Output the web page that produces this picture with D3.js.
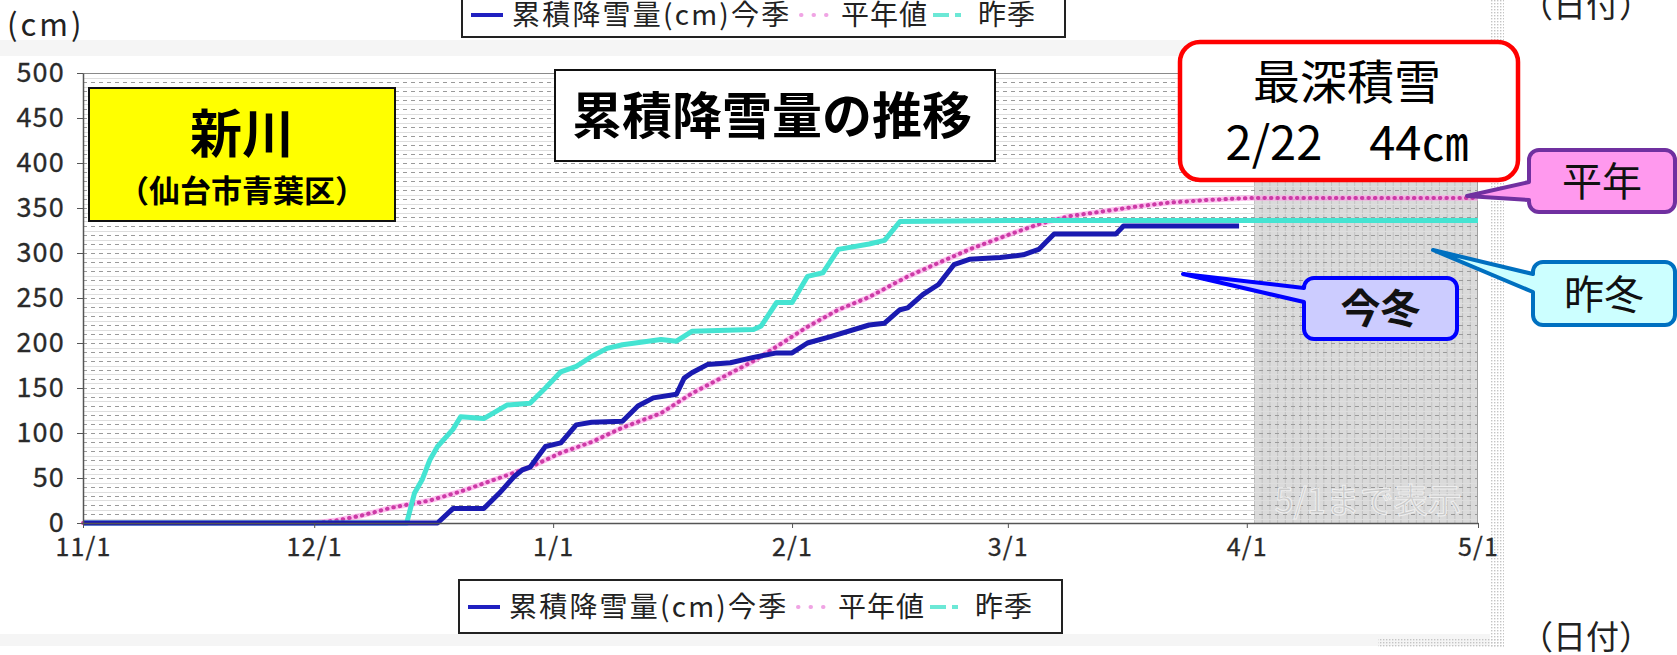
<!DOCTYPE html>
<html>
<head>
<meta charset="utf-8">
<script src="https://cdn.jsdelivr.net/npm/d3@7"></script>
<style>
  body { margin: 0; background: #fff; overflow: hidden; }
  svg { display: block; }
  text { font-family: "Noto Sans CJK JP", "Noto Sans", sans-serif; }
</style>
</head>
<body>
<script>
// season runs 11/1 .. 5/1 (non-leap February)
const seasonYear = 2021;

// 今季 (this season), cumulative snowfall cm
const thisDates = ["11/01", "12/17", "12/19", "12/23", "12/25", "12/27", "12/28", "12/29", "12/31",
  "01/02", "01/04", "01/06", "01/10", "01/12", "01/14", "01/17", "01/18", "01/19", "01/21", "01/24",
  "01/27", "01/30", "02/01", "02/03", "02/06", "02/11", "02/13", "02/15", "02/16", "02/18", "02/20",
  "02/22", "02/24", "02/28", "03/03", "03/05", "03/07", "03/15", "03/16", "03/31"];
const thisValues = [0, 0, 16, 16, 33, 52, 59, 62, 85,
  89, 109, 112, 113, 130, 139, 143, 161, 167, 176, 178,
  184, 189, 189, 200, 207, 220, 222, 237, 239, 254, 265,
  287, 293, 295, 298, 304, 321, 321, 330, 330];

// 平年値 (normal)
const normalDates = ["11/01", "12/01", "12/04", "12/07", "12/11", "12/16", "12/20", "12/25", "12/29",
  "01/02", "01/06", "01/10", "01/15", "01/19", "01/23", "01/27", "01/30", "02/03", "02/07", "02/11",
  "02/16", "02/20", "02/24", "03/01", "03/05", "03/09", "03/14", "03/18", "03/22", "03/27", "04/01", "05/01"];
const normalValues = [0, 0, 3, 8, 17, 25, 35, 50, 62,
  78, 90, 106, 122, 144, 162, 180, 196, 218, 237, 251,
  274, 289, 304, 320, 332, 341, 347, 352, 356, 359, 361, 361];

// 昨季 (last season)
const lastDates = ["11/01", "12/13", "12/14", "12/15", "12/16", "12/17", "12/19", "12/20", "12/23",
  "12/25", "12/26", "12/29", "12/31", "01/02", "01/04", "01/06", "01/08", "01/10", "01/15", "01/17",
  "01/19", "01/27", "01/28", "01/30", "02/01", "02/03", "02/05", "02/07", "02/11", "02/13", "02/15",
  "03/01", "05/01"];
const lastValues = [0, 0, 33, 48, 70, 85, 104, 118, 116,
  126, 131, 133, 150, 168, 174, 185, 194, 198, 204, 202,
  213, 215, 219, 245, 245, 274, 278, 304, 310, 314, 335,
  336, 336];

const xTickDates = ["11/01", "12/01", "01/01", "02/01", "03/01", "04/01", "05/01"];
const xTickLabels = ["11/1", "12/1", "1/1", "2/1", "3/1", "4/1", "5/1"];
const yTickValues = [0, 50, 100, 150, 200, 250, 300, 350, 400, 450, 500];
const legendLabels = ["累積降雪量(cm)今季", "平年値", "昨季"];

function parseDay(s) {
  const [m, d] = s.split("/").map(Number);
  return new Date(Date.UTC(m >= 11 ? seasonYear : seasonYear + 1, m - 1, d));
}
function toPoints(dates, values) {
  return dates.map((d, i) => ({ date: parseDay(d), value: values[i] }));
}

const width = 1677, height = 655;
const margin = { left: 83, right: 1478, top: 73, bottom: 523 };

const x = d3.scaleUtc()
  .domain([parseDay("11/01"), parseDay("05/01")])
  .range([margin.left, margin.right]);
const y = d3.scaleLinear()
  .domain([0, 500])
  .range([margin.bottom, margin.top]);

const svg = d3.select("body").append("svg")
  .attr("width", width)
  .attr("height", height);

const defs = svg.append("defs");
defs.append("pattern")
  .attr("id", "dots")
  .attr("width", 3).attr("height", 3)
  .attr("patternUnits", "userSpaceOnUse")
  .append("rect")
  .attr("width", 1.4).attr("height", 1.4)
  .attr("fill", "#c4c4c4");

// faint bands around the pasted chart image
svg.append("rect").attr("x", 0).attr("y", 40).attr("width", 1490).attr("height", 16).attr("fill", "#f5f5f5");
svg.append("rect").attr("x", 0).attr("y", 634).attr("width", 1490).attr("height", 12).attr("fill", "#f5f5f5");
svg.append("rect").attr("x", 1490).attr("y", 0).attr("width", 14).attr("height", 648).attr("fill", "url(#dots)");
svg.append("rect").attr("x", 1378).attr("y", 638).attr("width", 126).attr("height", 10).attr("fill", "url(#dots)");

// plot background
svg.append("rect")
  .attr("x", margin.left).attr("y", margin.top)
  .attr("width", margin.right - margin.left)
  .attr("height", margin.bottom - margin.top)
  .attr("fill", "#fff");

// greyed future part (4/2 .. 5/1)
const shadeStart = x(parseDay("04/02"));
svg.append("rect")
  .attr("x", shadeStart).attr("y", margin.top)
  .attr("width", margin.right - shadeStart)
  .attr("height", margin.bottom - margin.top)
  .attr("fill", "#dadada");
svg.append("g")
  .selectAll("line")
  .data(d3.utcDay.range(parseDay("04/02"), parseDay("05/01")))
  .join("line")
  .attr("x1", d => x(d)).attr("x2", d => x(d))
  .attr("y1", margin.top).attr("y2", margin.bottom)
  .attr("stroke", "#c2c2c2")
  .attr("stroke-width", 1);

// horizontal grid: dashed every 10cm, faint every 5cm
const grid = svg.append("g");
grid.selectAll("line")
  .data(d3.range(5, 500, 5))
  .join("line")
  .attr("x1", margin.left).attr("x2", margin.right)
  .attr("y1", d => Math.round(y(d)) + 0.5).attr("y2", d => Math.round(y(d)) + 0.5)
  .attr("stroke", d => d % 10 === 0 ? "#9a9a9a" : "#dedede")
  .attr("stroke-dasharray", d => d % 10 === 0 ? "4,4" : null)
  .attr("stroke-width", 1);

// watermark in the grey part
svg.append("text")
  .attr("x", (shadeStart + margin.right) / 2 + 2)
  .attr("y", 513)
  .attr("text-anchor", "middle")
  .attr("font-size", 34)
  .attr("fill", "#cacaca")
  .attr("stroke", "#efefef")
  .attr("stroke-width", 1)
  .text("5/1まで表示");

// frame
svg.append("line")
  .attr("x1", margin.left).attr("x2", margin.right)
  .attr("y1", margin.top + 0.5).attr("y2", margin.top + 0.5)
  .attr("stroke", "#8a8a8a");
svg.append("line")
  .attr("x1", margin.right - 0.5).attr("x2", margin.right - 0.5)
  .attr("y1", margin.top).attr("y2", margin.bottom)
  .attr("stroke", "#a0a0a0");

// series
const line = d3.line()
  .x(d => x(d.date))
  .y(d => y(d.value));

svg.append("path")
  .attr("d", line(toPoints(normalDates, normalValues)))
  .attr("fill", "none")
  .attr("stroke", "#ff9fe8")
  .attr("stroke-opacity", 0.65)
  .attr("stroke-width", 5.5);
svg.append("path")
  .attr("d", line(toPoints(normalDates, normalValues)))
  .attr("fill", "none")
  .attr("stroke", "#cc3aa6")
  .attr("stroke-width", 4)
  .attr("stroke-linecap", "round")
  .attr("stroke-dasharray", "0.5,6");

svg.append("path")
  .attr("d", line(toPoints(lastDates, lastValues)))
  .attr("fill", "none")
  .attr("stroke", "#45e4d2")
  .attr("stroke-width", 5)
  .attr("stroke-linejoin", "round");

svg.append("path")
  .attr("d", line(toPoints(thisDates, thisValues)))
  .attr("fill", "none")
  .attr("stroke", "#1a1ab0")
  .attr("stroke-width", 5)
  .attr("stroke-linejoin", "round");

// axes
const axisFont = '"Liberation Sans", Arial, sans-serif';
const gy = svg.append("g")
  .attr("transform", `translate(${margin.left},0)`)
  .call(d3.axisLeft(y).tickValues(yTickValues).tickSize(6).tickPadding(12).tickSizeOuter(0));
gy.select(".domain").attr("stroke", "#555").attr("stroke-width", 1.5);
gy.selectAll(".tick line").attr("stroke", "#555");
gy.selectAll(".tick text")
  .attr("font-family", axisFont)
  .attr("font-size", 27)
  .attr("letter-spacing", 1.2)
  .attr("fill", "#2a2a2a")
  .attr("stroke", "#2a2a2a")
  .attr("stroke-width", 0.3);

const gx = svg.append("g")
  .attr("transform", `translate(0,${margin.bottom})`)
  .call(d3.axisBottom(x)
    .tickValues(xTickDates.map(parseDay))
    .tickFormat((d, i) => xTickLabels[i])
    .tickSize(5).tickPadding(10).tickSizeOuter(0));
gx.select(".domain").attr("stroke", "#555").attr("stroke-width", 1.5);
gx.selectAll(".tick line").attr("stroke", "#555");
gx.selectAll(".tick text")
  .attr("font-family", axisFont)
  .attr("font-size", 25)
  .attr("letter-spacing", 1.2)
  .attr("fill", "#2a2a2a")
  .attr("stroke", "#2a2a2a")
  .attr("stroke-width", 0.3);

// unit labels
svg.append("text").attr("x", 7).attr("y", 36)
  .attr("font-size", 31).attr("letter-spacing", 3).attr("fill", "#222").text("(cm)");
svg.append("text").attr("x", 1520).attr("y", 649)
  .attr("font-size", 33).attr("fill", "#222").text("（日付）");
svg.append("text").attr("x", 1520).attr("y", 17)
  .attr("font-size", 33).attr("fill", "#222").text("（日付）");

// station box
svg.append("rect")
  .attr("x", 89).attr("y", 88).attr("width", 306).attr("height", 133)
  .attr("fill", "#ffff00").attr("stroke", "#111").attr("stroke-width", 2);
svg.append("text").attr("x", 242).attr("y", 153)
  .attr("text-anchor", "middle").attr("font-size", 52).attr("font-weight", 700)
  .text("新川");
svg.append("text").attr("x", 242).attr("y", 202)
  .attr("text-anchor", "middle").attr("font-size", 31).attr("font-weight", 700)
  .text("（仙台市青葉区）");

// title box
svg.append("rect")
  .attr("x", 555).attr("y", 70).attr("width", 440).attr("height", 91)
  .attr("fill", "#fff").attr("stroke", "#111").attr("stroke-width", 2);
svg.append("text").attr("x", 772).attr("y", 134)
  .attr("text-anchor", "middle").attr("font-size", 50).attr("font-weight", 700)
  .text("累積降雪量の推移");

// deepest snow box
svg.append("rect")
  .attr("x", 1180).attr("y", 42).attr("width", 338).attr("height", 138)
  .attr("rx", 20)
  .attr("fill", "#fff").attr("stroke", "#ff0000").attr("stroke-width", 4.5);
svg.append("text").attr("x", 1347).attr("y", 99)
  .attr("text-anchor", "middle").attr("font-size", 47).text("最深積雪");
svg.append("text").attr("x", 1347).attr("y", 160)
  .attr("text-anchor", "middle").attr("font-size", 47).text("2/22　44㎝");

// callouts: rounded box with a wedge on its left side
function calloutPath(b) {
  const { x0, y0, w, h, r, tip, b1, b2 } = b;
  return `M${x0 + r},${y0} H${x0 + w - r} A${r},${r} 0 0 1 ${x0 + w},${y0 + r}` +
    ` V${y0 + h - r} A${r},${r} 0 0 1 ${x0 + w - r},${y0 + h} H${x0 + r}` +
    ` A${r},${r} 0 0 1 ${x0},${y0 + h - r} V${b2} L${tip[0]},${tip[1]} L${x0},${b1}` +
    ` V${y0 + r} A${r},${r} 0 0 1 ${x0 + r},${y0} Z`;
}
const callouts = [
  { label: "平年", x0: 1529, y0: 150, w: 146, h: 62, r: 10, tip: [1467, 196], b1: 182, b2: 200,
    fill: "#ff99ee", stroke: "#7030a0", size: 40, weight: 400, ty: 196 },
  { label: "昨冬", x0: 1533, y0: 262, w: 142, h: 63, r: 10, tip: [1433, 250], b1: 274, b2: 292,
    fill: "#ccffff", stroke: "#0070c0", size: 40, weight: 400, ty: 309 },
  { label: "今冬", x0: 1304, y0: 278, w: 153, h: 61, r: 10, tip: [1183, 274], b1: 288, b2: 302,
    fill: "#ccccff", stroke: "#0000ff", size: 40, weight: 700, ty: 323 }
];
const cg = svg.append("g").selectAll("g").data(callouts).join("g");
cg.append("path")
  .attr("d", d => calloutPath(d))
  .attr("fill", d => d.fill)
  .attr("stroke", d => d.stroke)
  .attr("stroke-width", 4)
  .attr("stroke-linejoin", "round");
cg.append("text")
  .attr("x", d => d.x0 + d.w / 2)
  .attr("y", d => d.ty)
  .attr("text-anchor", "middle")
  .attr("font-size", d => d.size)
  .attr("font-weight", d => d.weight)
  .attr("fill", "#111")
  .text(d => d.label);

// legends (top one is cut by the page edge)
function legend(ox, boxY, boxH, baseY) {
  const g = svg.append("g").attr("transform", `translate(${ox},0)`);
  g.append("rect")
    .attr("x", 459).attr("y", boxY).attr("width", 603).attr("height", boxH)
    .attr("fill", "#fff").attr("stroke", "#222").attr("stroke-width", 2);
  const cy = baseY - 10;
  g.append("line").attr("x1", 468).attr("x2", 500).attr("y1", cy).attr("y2", cy)
    .attr("stroke", "#2020c0").attr("stroke-width", 4);
  g.append("line").attr("x1", 798).attr("x2", 828).attr("y1", cy).attr("y2", cy)
    .attr("stroke", "#f0a4e4").attr("stroke-width", 4)
    .attr("stroke-linecap", "round").attr("stroke-dasharray", "0.5,12");
  g.append("line").attr("x1", 930).attr("x2", 962).attr("y1", cy).attr("y2", cy)
    .attr("stroke", "#6ce8d6").attr("stroke-width", 4)
    .attr("stroke-dasharray", "16,6,6,6");
  const xs = [509, 838, 975];
  g.selectAll("text.lg")
    .data(legendLabels)
    .join("text")
    .attr("class", "lg")
    .attr("x", (d, i) => xs[i])
    .attr("y", baseY)
    .attr("font-size", 28)
    .attr("letter-spacing", (d, i) => i === 0 ? 2.2 : 1)
    .attr("fill", "#222")
    .text(d => d);
}
legend(3, -16, 53, 25);
legend(0, 580, 53, 617);
</script>
</body>
</html>
